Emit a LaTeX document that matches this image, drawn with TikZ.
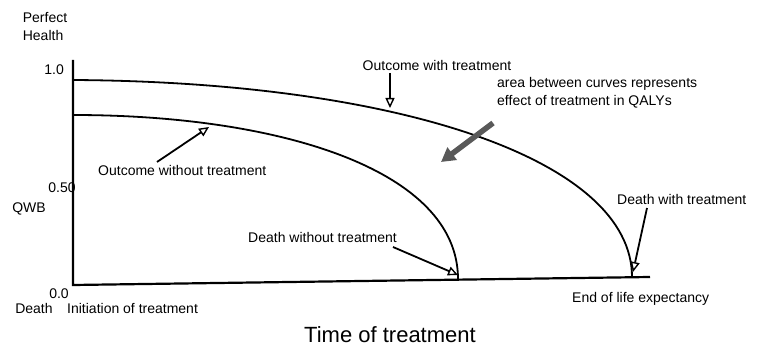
\documentclass[tikz,border=0pt]{standalone}
\usepackage{fontspec}
\setmainfont{Liberation Sans}
\usetikzlibrary{arrows.meta}
\begin{document}
\begin{tikzpicture}[x=1pt,y=-1pt,
  lbl/.style={inner sep=0pt, font=\fontsize{14}{18}\selectfont},
  big/.style={inner sep=0pt, font=\fontsize{22}{24}\selectfont},
  ptr/.style={line width=1.8pt, -{Triangle[open,length=10pt,width=9pt,line width=1.4pt]}},
  fat/.style={line width=5.5pt, draw=black!65, -{Triangle[length=14pt,width=15pt]}},
  curve/.style={line width=1.8pt},
  axis/.style={line width=2.2pt}]
\useasboundingbox (0,0) rectangle (761,350);
% axes
\coordinate (ytop) at (73,60);
\coordinate (orig) at (73,285);
\coordinate (xend) at (650,277);
\draw[axis] (ytop) -- (orig) -- (xend);
% curves
\coordinate (u0) at (73,80);
\coordinate (u1) at (632,277);
\coordinate (l0) at (73,115);
\coordinate (l1) at (458,279);
\draw[curve] (u0) .. controls (400,82) and (632,160) .. (u1);
\draw[curve] (l0) .. controls (280,115) and (458,170) .. (l1);
% axis labels
\node[lbl, align=left] (perfect) at (45,27) {Perfect\\Health};
\node[lbl, anchor=east] (one) at (64,70) {1.0};
\node[lbl] (half) at (62,188) {0.50};
\node[lbl] (qwb) at (29,209) {QWB};
\node[lbl] (zero) at (59,294) {0.0};
\node[lbl] (death) at (34,308) {Death};
\node[lbl, anchor=west] (init) at (67,308) {Initiation of treatment};
\node[lbl, anchor=west] (endlife) at (572,299) {End of life expectancy};
\node[big] (time) at (390,335) {Time of treatment};
% annotations
\node[lbl] (owith) at (437,65) {Outcome with treatment};
\node[lbl, anchor=west] (owo) at (98,170) {Outcome without treatment};
\node[lbl, anchor=west, align=left] (area) at (497,93) {area between curves represents\\effect of treatment in QALYs};
\node[lbl, anchor=west] (dwo) at (248,237) {Death without treatment};
\node[lbl, anchor=west] (dwith) at (617,199) {Death with treatment};
% arrow ends
\coordinate (a1s) at (390,73);
\coordinate (a1e) at (390,108);
\coordinate (a2s) at (157,162);
\coordinate (a2e) at (209,127);
\coordinate (a3s) at (493,123);
\coordinate (a3e) at (441,162);
\coordinate (a4s) at (393,247);
\coordinate (a4e) at (458,275);
\coordinate (a5s) at (647,208);
\coordinate (a5e) at (633,272);
\draw[ptr] (a1s) -- (a1e);
\draw[ptr] (a2s) -- (a2e);
\draw[fat] (a3s) -- (a3e);
\draw[ptr] (a4s) -- (a4e);
\draw[ptr] (a5s) -- (a5e);
\end{tikzpicture}
\end{document}
